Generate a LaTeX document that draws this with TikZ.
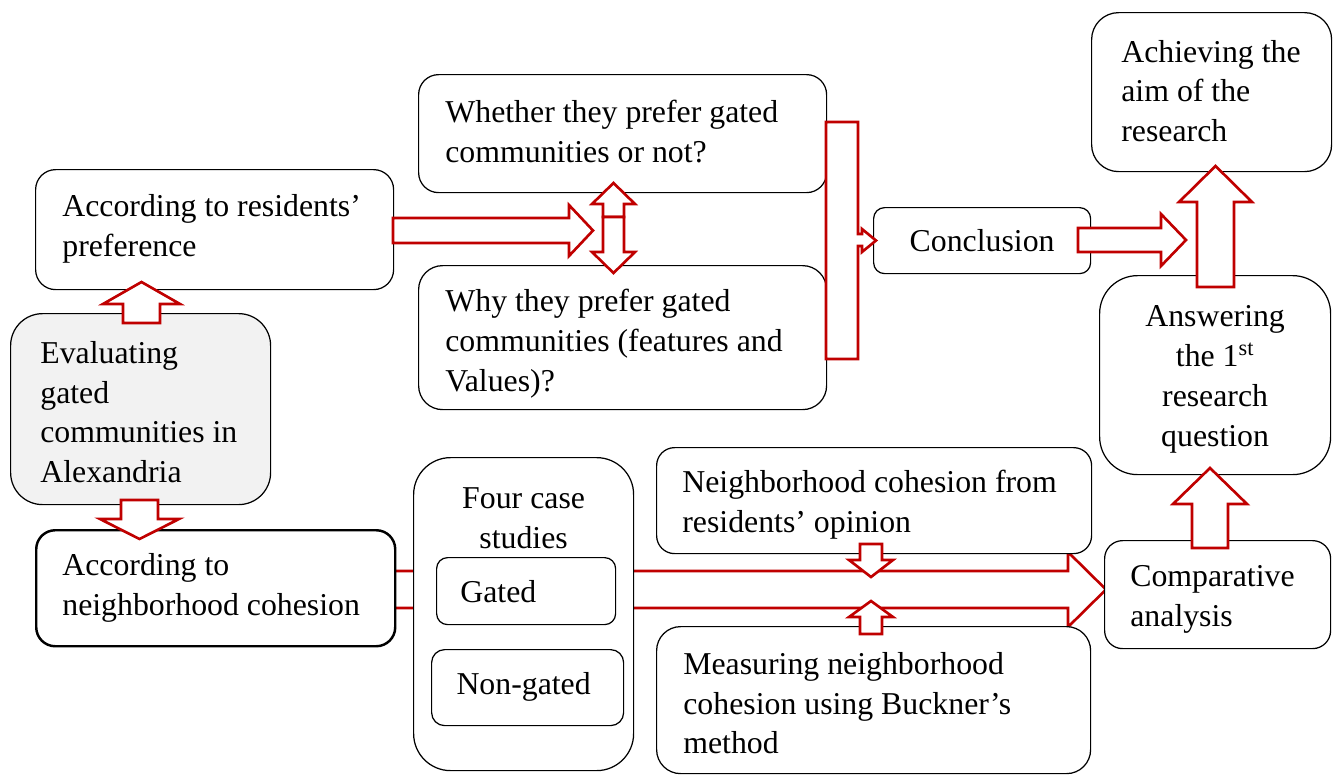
\documentclass[tikz,border=0pt]{standalone}
\usepackage{fontspec}
\setmainfont{Liberation Serif}
\newdimen\px \px=0.02cm
\definecolor{arrred}{HTML}{C00000}
\definecolor{evalgray}{HTML}{F2F2F2}
\tikzset{
  box/.style={draw=black, line width=0.7pt, fill=white, inner sep=0pt, anchor=north west},
  txt/.style={font=\fontsize{18.1pt}{22.76pt}\selectfont, align=left, inner sep=0pt, anchor=west},
  ctxt/.style={font=\fontsize{18.1pt}{22.76pt}\selectfont, align=center, inner sep=0pt},
  blk/.style={draw=arrred, fill=white, line width=1.5pt, line join=miter},
}
\begin{document}
\begin{tikzpicture}[x=0.02cm, y=-0.02cm]
\useasboundingbox (0,0) rectangle (1336,775);

% big arrow behind the case-study box
\draw[blk] (394,571) -- (1068,571) -- (1068,552) -- (1106,589.5) -- (1068,627) -- (1068,608) -- (394,608) -- cycle;

% boxes
\node[box, minimum width=358\px, minimum height=120\px, rounded corners=20\px] (res) at (35,169) {};
\node[box, fill=evalgray, minimum width=260\px, minimum height=191\px, rounded corners=32\px] (eval) at (10,313) {};
\node[box, line width=1.4pt, minimum width=359\px, minimum height=116\px, rounded corners=19\px] (coh) at (35,529) {};
\node[box, minimum width=408\px, minimum height=118\px, rounded corners=20\px] (whe) at (418,74) {};
\node[box, minimum width=408\px, minimum height=144\px, rounded corners=24\px] (why) at (418,265) {};
\node[box, minimum width=217\px, minimum height=66\px, rounded corners=11\px] (con) at (873,207) {};
\node[box, minimum width=240\px, minimum height=159\px, rounded corners=27\px] (ach) at (1091,12) {};
\node[box, minimum width=231\px, minimum height=199\px, rounded corners=38\px] (ans) at (1099,275) {};
\node[box, minimum width=226\px, minimum height=108\px, rounded corners=18\px] (cmp) at (1104,540) {};
\node[box, minimum width=220\px, minimum height=313\px, rounded corners=37\px] (four) at (413,457) {};
\node[box, minimum width=179\px, minimum height=67\px, rounded corners=11\px] (gat) at (436,557) {};
\node[box, minimum width=192\px, minimum height=76\px, rounded corners=13\px] (non) at (431,649) {};
\node[box, minimum width=435\px, minimum height=106\px, rounded corners=18\px] (opi) at (656,447) {};
\node[box, minimum width=434\px, minimum height=147\px, rounded corners=24\px] (mea) at (656,626) {};

% texts
\node[txt] (res-t) at ([xshift=27\px, yshift=1\px]res.west) {According to residents’\\preference};
\node[txt] (eval-t) at ([xshift=30\px, yshift=-3\px]eval.west) {Evaluating\\gated\\communities in\\Alexandria};
\node[txt] (coh-t) at ([xshift=27\px]coh.west) {According to\\neighborhood cohesion};
\node[txt] (whe-t) at ([xshift=27\px, yshift=2\px]whe.west) {Whether they prefer gated\\communities or not?};
\node[txt] (why-t) at ([xshift=27\px, yshift=-6\px]why.west) {Why they prefer gated\\communities (features and\\Values)?};
\node[ctxt] (con-t) at (con.center) {Conclusion};
\node[txt] (ach-t) at ([xshift=30\px, yshift=1\px]ach.west) {Achieving the\\aim of the\\research};
\node[ctxt] (ans-t) at ([yshift=-4\px]ans.center) {Answering\\the 1\textsuperscript{st}\\research\\question};
\node[txt] (cmp-t) at ([xshift=26\px, yshift=-5\px]cmp.west) {Comparative\\analysis};
\node[ctxt] (four-t) at ([yshift=-61\px]four.north) {Four case\\studies};
\node[txt] (gat-t) at ([xshift=24\px]gat.west) {Gated};
\node[ctxt] (non-t) at ([xshift=-4\px, yshift=1\px]non.center) {Non-gated};
\node[txt] (opi-t) at ([xshift=26\px, yshift=-4\px]opi.west) {Neighborhood cohesion from\\residents’ opinion};
\node[txt] (mea-t) at ([xshift=27\px, yshift=-3\px]mea.west) {Measuring neighborhood\\cohesion using Buckner’s\\method};

% block arrows
\draw[blk] (393,218) -- (569,218) -- (569,205) -- (593,230.5) -- (569,256) -- (569,243) -- (393,243) -- cycle;
\draw[blk] (603,217) -- (603,204) -- (592,204) -- (613.5,183) -- (635,204) -- (624,204) -- (624,217) -- cycle;
\draw[blk] (603,217) -- (603,252) -- (592,252) -- (613.5,273) -- (635,252) -- (624,252) -- (624,217) -- cycle;
\draw[blk] (826,122) -- (858,122) -- (858,234) -- (862,234) -- (862,229) -- (876,240.5) -- (862,252) -- (862,246) -- (858,246) -- (858,359) -- (826,359) -- cycle;
\draw[blk] (1078,228) -- (1161,228) -- (1161,214) -- (1186,240) -- (1161,266) -- (1161,252) -- (1078,252) -- cycle;
\draw[blk] (1197,287) -- (1197,202) -- (1179,202) -- (1215.5,166) -- (1252,202) -- (1234,202) -- (1234,287) -- cycle;
\draw[blk] (1192,548) -- (1192,504) -- (1173,504) -- (1210,468) -- (1247,504) -- (1228,504) -- (1228,548) -- cycle;
\draw[blk] (123,323) -- (123,304) -- (103,304) -- (141.5,282) -- (180,304) -- (160,304) -- (160,323) -- cycle;
\draw[blk] (121,500) -- (121,519) -- (100,519) -- (139.5,539) -- (179,519) -- (158,519) -- (158,500) -- cycle;
\draw[blk] (860,544) -- (860,560) -- (849,560) -- (871,577) -- (893,560) -- (882,560) -- (882,544) -- cycle;
\draw[blk] (860,634) -- (860,617) -- (849,617) -- (871,601) -- (893,617) -- (882,617) -- (882,634) -- cycle;
\end{tikzpicture}
\end{document}
